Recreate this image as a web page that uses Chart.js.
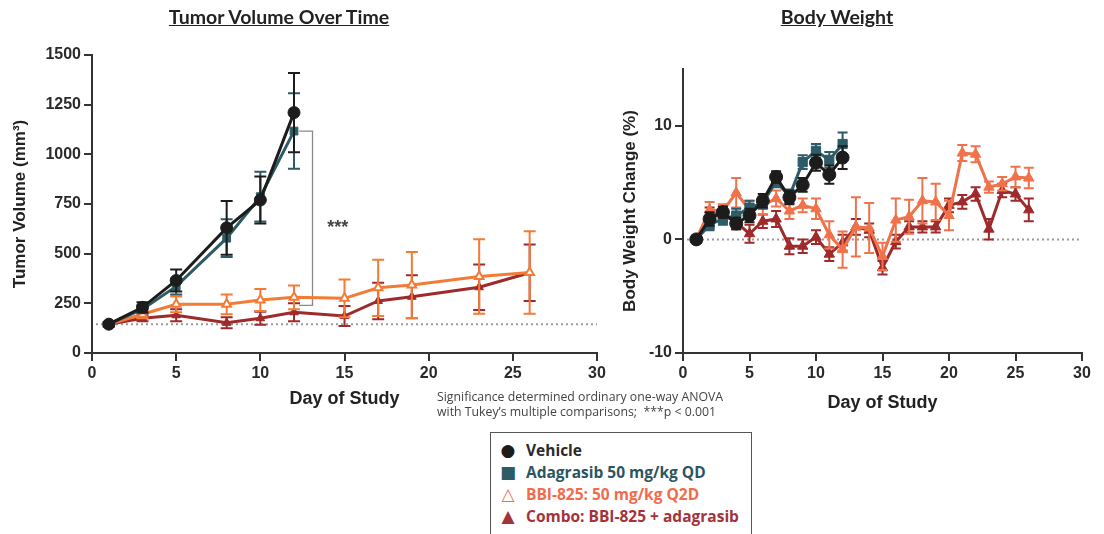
<!DOCTYPE html>
<html><head><meta charset="utf-8">
<script src="https://cdn.jsdelivr.net/npm/chart.js@4.4.1/dist/chart.umd.min.js"></script>
<style>
body{margin:0;background:#fff;}
#wrap{position:relative;width:1104px;height:534px;overflow:hidden;background:#fff;}
canvas{position:absolute;}
.title{position:absolute;top:5px;font-family:Lato,"Open Sans",sans-serif;font-weight:bold;font-size:19.5px;text-decoration:underline;color:#222;transform:translateX(-50%);white-space:nowrap;}
#note{position:absolute;left:437px;top:389px;font-family:"Open Sans",sans-serif;font-size:12.3px;line-height:15px;color:#444;white-space:pre;}
#legend{position:absolute;left:490px;top:432px;width:262px;height:120px;border:1px solid #555;box-sizing:border-box;padding-top:6px;font-family:"Open Sans",sans-serif;font-weight:bold;font-size:15.5px;}
#legend div{height:22px;line-height:22px;white-space:nowrap;position:relative;padding-left:35px;}
#legend span.m{position:absolute;left:7px;top:0;width:20px;text-align:center;font-family:"DejaVu Sans",sans-serif;font-size:17px;}
</style></head>
<body><div id="wrap">
<canvas id="c1" width="620" height="420" style="left:0;top:0;width:620px;height:420px"></canvas>
<canvas id="c2" width="504" height="420" style="left:600px;top:0;width:504px;height:420px"></canvas>
<div class="title" style="left:279px">Tumor Volume Over Time</div>
<div class="title" style="left:837px">Body Weight</div>
<div id="note">Significance determined ordinary one-way ANOVA
with Tukey’s multiple comparisons;  ***p &lt; 0.001</div>
<div id="legend">
<div style="color:#2a2a2a"><span class="m" style="color:#1c1c1c">●</span>Vehicle</div>
<div style="color:#2d5560"><span class="m" style="color:#2d5b66">■</span>Adagrasib 50 mg/kg QD</div>
<div style="color:#f26b4b"><span class="m" style="color:#f26b4b">△</span>BBI-825: 50 mg/kg Q2D</div>
<div style="color:#a3333a"><span class="m" style="color:#a3333a">▲</span>Combo: BBI-825 + adagrasib</div>
</div>
</div>
<script>
// ---- Tumor volume data ----
const tvDaysShort = [1, 3, 5, 8, 10, 12];
const tvDaysLong = [1, 3, 5, 8, 10, 12, 15, 17, 19, 23, 26];
const tvVehicle = [145, 230, 365, 630, 770, 1210];
const tvVehicleErr = [10, 25, 55, 135, 118, 200];
const tvAdagrasib = [145, 220, 335, 578, 787, 1117];
const tvAdagrasibErr = [10, 20, 40, 95, 125, 190];
const tvBBI = [145, 195, 245, 245, 267, 280, 275, 328, 342, 385, 405];
const tvBBIErr = [10, 20, 40, 50, 55, 60, 95, 142, 166, 188, 208];
const tvCombo = [145, 175, 190, 152, 175, 205, 186, 262, 283, 331, 404];
const tvComboErr = [8, 15, 30, 28, 33, 45, 50, 92, 108, 115, 142];
const tvBaseline = 145;
const tvSigTop = 1117, tvSigBottom = 240, tvSigLabel = '***';

// ---- Body weight data ----
const bwDaysShort = [1,2,3,4,5,6,7,8,9,10,11,12];
const bwDaysLong = [1,2,3,4,5,6,7,8,9,10,11,12,13,14,15,16,17,18,19,20,21,22,23,24,25,26];
const bwVehicle = [0, 1.8, 2.4, 1.4, 2.1, 3.4, 5.5, 3.7, 4.8, 6.75, 5.7, 7.2];
const bwVehicleErr = [0.2, 0.6, 0.5, 0.5, 0.6, 0.6, 0.5, 0.6, 0.6, 0.7, 0.8, 1.0];
const bwAdagrasib = [0, 1.3, 1.8, 2.1, 2.8, 3.2, 5.1, 3.8, 6.8, 7.8, 7.0, 8.4];
const bwAdagrasibErr = [0.2, 0.5, 0.5, 0.6, 0.6, 0.5, 0.5, 0.6, 0.6, 0.6, 0.7, 1.0];
const bwBBI = [0, 2.6, 2.5, 4.1, 2.6, 3.0, 3.6, 2.5, 3.0, 2.7, 0.4, -0.9, 1.1, 1.0, -1.5, 1.7, 2.0, 3.4, 3.3, 2.1, 7.6, 7.5, 4.6, 4.9, 5.5, 5.4];
const bwBBIErr = [0.2, 0.7, 0.6, 1.3, 0.8, 0.8, 0.7, 0.7, 0.6, 0.9, 1.2, 1.6, 2.6, 2.2, 1.2, 1.9, 1.5, 2.0, 1.6, 1.3, 0.7, 0.7, 0.5, 0.6, 0.9, 0.9];
const bwCombo = [0, 2.3, 2.2, 1.5, 0.5, 1.6, 1.8, -0.6, -0.6, 0.2, -1.3, -0.3, 1.1, 0.8, -2.5, -0.2, 1.1, 1.1, 1.1, 3.0, 3.3, 4.0, 0.9, 4.3, 4.0, 2.6];
const bwComboErr = [0.2, 0.5, 0.5, 0.6, 0.8, 0.6, 0.7, 0.7, 0.6, 0.6, 0.6, 0.7, 0.7, 0.6, 0.6, 0.6, 0.5, 0.5, 0.5, 0.6, 0.6, 0.6, 0.9, 0.6, 0.6, 1.0];
const bwBaseline = 0;

const xTicks = [0, 5, 10, 15, 20, 25, 30];
const tvYTicks = [0, 250, 500, 750, 1000, 1250, 1500];
const bwYTicks = [-10, 0, 10];

const C_VEH = '#1c1c1c', C_ADA = '#2d5b66', C_BBI = '#f47b35', C_BBI2 = '#f0724a', C_COM = '#9e2a2b';

function pts(xs, ys) { return xs.map((x, i) => ({x: x, y: ys[i]})); }

const errorBars = {
  id: 'errorBars',
  beforeDatasetDraw(chart, args) {
    const ds = chart.data.datasets[args.index];
    if (!ds.errors) return;
    const xs = chart.scales.x, ys = chart.scales.y, ctx = chart.ctx;
    ctx.save();
    ctx.strokeStyle = ds.errorColor || ds.borderColor;
    ctx.lineWidth = 2;
    const c = ds.capHalf || 5;
    ds.data.forEach((p, i) => {
      const e = ds.errors[i];
      const x = xs.getPixelForValue(p.x);
      const y1 = ys.getPixelForValue(p.y + e), y2 = ys.getPixelForValue(p.y - e);
      ctx.beginPath();
      ctx.moveTo(x, y1); ctx.lineTo(x, y2);
      ctx.moveTo(x - c, y1); ctx.lineTo(x + c, y1);
      ctx.moveTo(x - c, y2); ctx.lineTo(x + c, y2);
      ctx.stroke();
    });
    ctx.restore();
  }
};

const refLine = {
  id: 'refLine',
  beforeDatasetsDraw(chart, args, opts) {
    const ctx = chart.ctx, a = chart.chartArea;
    const y = chart.scales.y.getPixelForValue(opts.value);
    ctx.save();
    ctx.strokeStyle = '#9a9a9a';
    ctx.lineWidth = 2;
    ctx.setLineDash([2, 3]);
    ctx.beginPath();
    ctx.moveTo(a.left + 4, y); ctx.lineTo(a.right, y);
    ctx.stroke();
    ctx.restore();
  }
};

const sigBracket = {
  id: 'sigBracket',
  beforeDatasetsDraw(chart, args, opts) {
    if (!opts.enabled) return;
    const ctx = chart.ctx, xs = chart.scales.x, ys = chart.scales.y;
    const x0 = xs.getPixelForValue(opts.x0), x1 = xs.getPixelForValue(opts.x1);
    const yt = ys.getPixelForValue(opts.top), yb = ys.getPixelForValue(opts.bottom);
    ctx.save();
    ctx.strokeStyle = '#8a8a8a';
    ctx.lineWidth = 1.3;
    ctx.beginPath();
    ctx.moveTo(x0, yt); ctx.lineTo(x1, yt); ctx.lineTo(x1, yb); ctx.lineTo(x0, yb);
    ctx.stroke();
    ctx.fillStyle = '#444';
    ctx.font = 'bold 18px "Liberation Sans", Arial, sans-serif';
    ctx.textAlign = 'center';
    ctx.textBaseline = 'middle';
    ctx.fillText(opts.label, xs.getPixelForValue(opts.labelX), ys.getPixelForValue(opts.labelY) + 4);
    ctx.restore();
  }
};

function axisCommon(min, max, ticks, fontSize) {
  return {
    type: 'linear', min: min, max: max,
    afterBuildTicks(s) { s.ticks = ticks.map(v => ({value: v})); },
    grid: {display: true, drawOnChartArea: false, drawTicks: true, tickLength: 8, color: '#333', lineWidth: 2},
    border: {display: true, color: '#333', width: 2},
    ticks: {color: '#2a2a2a', padding: 3, callback: v => String(v), font: {family: '"Liberation Sans", Arial, sans-serif', size: fontSize, weight: 'bold'}}
  };
}

function makeDs(label, days, vals, errs, color, style, opts) {
  return Object.assign({
    label: label, data: pts(days, vals), errors: errs,
    borderColor: color, backgroundColor: color,
    pointStyle: style, pointRadius: 5.5, pointBorderWidth: 1,
    pointBackgroundColor: color, pointBorderColor: color,
    borderWidth: 3, tension: 0, capHalf: 6
  }, opts || {});
}

// ---- Chart 1 ----
const x1 = axisCommon(0, 30, xTicks, 16);
x1.afterFit = s => { s.height = 67; };
x1.title = {display: true, text: 'Day of Study', color: '#222', padding: {top: 0, bottom: 10}, font: {family: '"Liberation Sans", Arial, sans-serif', size: 18, weight: 'bold'}};
const y1 = axisCommon(0, 1500, tvYTicks, 16);
y1.afterFit = s => { s.width = 92; };
y1.title = {display: true, text: 'Tumor Volume (mm³)', color: '#222', padding: {top: 10, bottom: 0}, font: {family: '"Liberation Sans", Arial, sans-serif', size: 17, weight: 'bold'}};

new Chart(document.getElementById('c1'), {
  type: 'line',
  data: {datasets: [
    makeDs('Vehicle', tvDaysShort, tvVehicle, tvVehicleErr, C_VEH, 'circle', {pointRadius: 6}),
    makeDs('Adagrasib 50 mg/kg QD', tvDaysShort, tvAdagrasib, tvAdagrasibErr, C_ADA, 'rect'),
    makeDs('BBI-825: 50 mg/kg Q2D', tvDaysLong, tvBBI, tvBBIErr, C_BBI, 'triangle', {pointBackgroundColor: '#fff', pointBorderWidth: 2, pointRadius: 5}),
    makeDs('Combo: BBI-825 + adagrasib', tvDaysLong, tvCombo, tvComboErr, C_COM, 'triangle', {pointRadius: 5})
  ]},
  options: {
    responsive: false, animation: false, events: [], devicePixelRatio: 1,
    layout: {autoPadding: false, padding: {top: 55, right: 23, left: 0, bottom: 0}},
    scales: {x: x1, y: y1},
    plugins: {
      legend: {display: false}, tooltip: {enabled: false},
      refLine: {value: tvBaseline},
      sigBracket: {enabled: true, x0: 12.3, x1: 13.1, top: tvSigTop, bottom: tvSigBottom, label: tvSigLabel, labelX: 14.6, labelY: 650}
    }
  },
  plugins: [errorBars, refLine, sigBracket]
});

// ---- Chart 2 ----
const x2 = axisCommon(0, 30, xTicks, 16);
x2.afterFit = s => { s.height = 67; };
x2.title = {display: true, text: 'Day of Study', color: '#222', padding: {top: 0, bottom: 6}, font: {family: '"Liberation Sans", Arial, sans-serif', size: 18, weight: 'bold'}};
const y2 = axisCommon(-10, 15, bwYTicks, 16);
y2.afterFit = s => { s.width = 83; };
y2.title = {display: true, text: 'Body Weight Change (%)', color: '#222', padding: {top: 20, bottom: 0}, font: {family: '"Liberation Sans", Arial, sans-serif', size: 17, weight: 'bold'}};

new Chart(document.getElementById('c2'), {
  type: 'line',
  data: {datasets: [
    makeDs('Vehicle', bwDaysShort, bwVehicle, bwVehicleErr, C_VEH, 'circle', {pointRadius: 6.5, capHalf: 5}),
    makeDs('Adagrasib 50 mg/kg QD', bwDaysShort, bwAdagrasib, bwAdagrasibErr, C_ADA, 'rect', {pointRadius: 6.5, capHalf: 5}),
    makeDs('BBI-825: 50 mg/kg Q2D', bwDaysLong, bwBBI, bwBBIErr, C_BBI2, 'triangle', {pointRadius: 6, capHalf: 5}),
    makeDs('Combo: BBI-825 + adagrasib', bwDaysLong, bwCombo, bwComboErr, C_COM, 'triangle', {pointRadius: 6, capHalf: 5})
  ]},
  options: {
    responsive: false, animation: false, events: [], devicePixelRatio: 1,
    layout: {autoPadding: false, padding: {top: 69, right: 22, left: 0, bottom: 0}},
    scales: {x: x2, y: y2},
    plugins: {
      legend: {display: false}, tooltip: {enabled: false},
      refLine: {value: bwBaseline},
      sigBracket: {enabled: false}
    }
  },
  plugins: [errorBars, refLine, sigBracket]
});
</script>
</body></html>
